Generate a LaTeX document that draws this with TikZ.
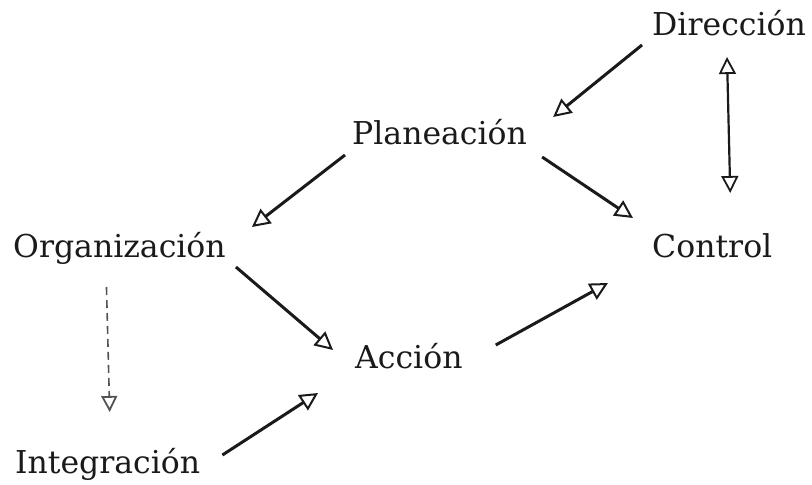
\documentclass[tikz,border=0pt]{standalone}
\usepackage{fontspec}
\setmainfont{DejaVu Serif}
\usetikzlibrary{arrows.meta}
\definecolor{ink}{HTML}{1A1A1A}

\begin{document}
\begin{tikzpicture}[x=1pt, y=-1pt,
    word/.style={font=\fontsize{31.5}{36}\selectfont, text=ink, inner sep=0pt, anchor=base west},
    flow/.style={draw=ink, line width=3pt, -{Triangle[open, length=18pt, width=18pt, line width=2pt]}},
    twoway/.style={draw=ink, line width=2.2pt, {Triangle[open, length=17pt, width=17pt, line width=1.8pt]}-{Triangle[open, length=17pt, width=17pt, line width=1.8pt]}},
    faint/.style={draw=ink!75, line width=1.6pt, dash pattern=on 8pt off 5pt, -{Triangle[open, length=16pt, width=16pt, line width=1.8pt]}}]
  \useasboundingbox (0,0) rectangle (812,485);
  % words
  \node[word] (dir)  at (652,35)  {Dirección};
  \node[word] (plan) at (352,144) {Planeación};
  \node[word] (org)  at (13,257)  {Organización};
  \node[word] (ctrl) at (652,257) {Control};
  \node[word] (acc)  at (355,368) {Acción};
  \node[word] (intg) at (15,473)  {Integración};
  % arrows
  \draw[flow] ([shift={(-10,10)}]dir.base west) -- ([shift={(26,-27)}]plan.base east);
  \draw[twoway] ([shift={(-2,22)}]dir.base) -- ([shift={(18,-64)}]ctrl.base);
  \draw[flow] ([shift={(-7,11)}]plan.base west) -- ([shift={(26,-30)}]org.base east);
  \draw[flow] ([shift={(15,13)}]plan.base east) -- ([shift={(-19,-39)}]ctrl.base west);
  \draw[flow] ([shift={(10,10)}]org.base east) -- ([shift={(-22,-18)}]acc.base west);
  \draw[faint] ([shift={(-13,30)}]org.base) -- ([shift={(2,-61)}]intg.base);
  \draw[flow] ([shift={(22,-18)}]intg.base east) -- ([shift={(-37,25)}]acc.base west);
  \draw[flow] ([shift={(33,-23)}]acc.base east) -- ([shift={(-44,26)}]ctrl.base west);
\end{tikzpicture}
\end{document}
